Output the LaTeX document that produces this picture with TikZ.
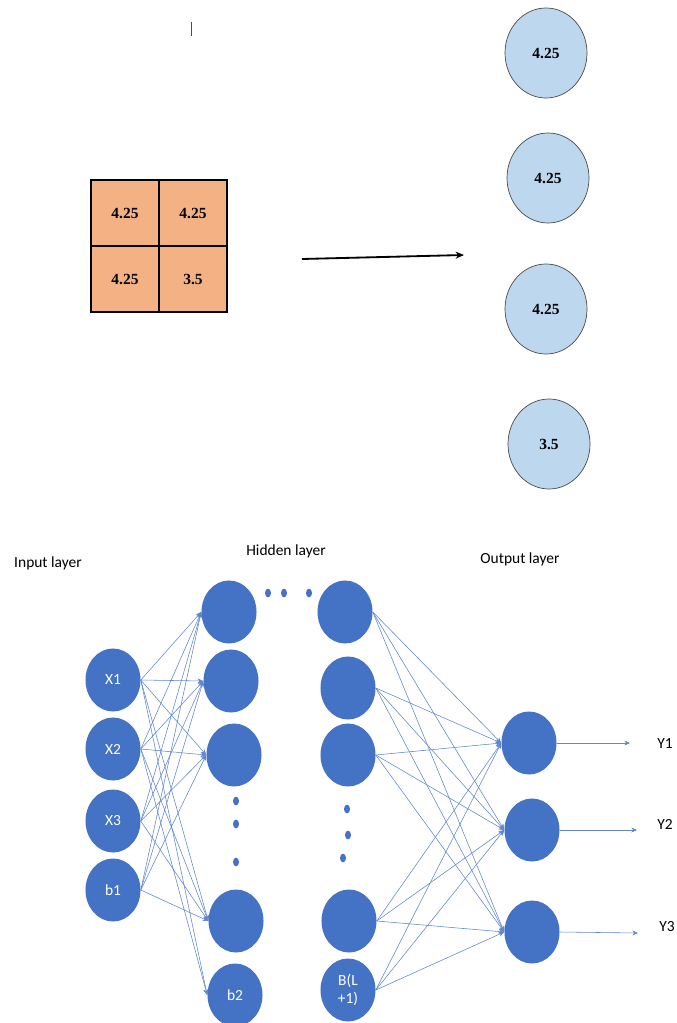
\documentclass[tikz,border=0pt]{standalone}
\usepackage{fontspec}
\setmainfont{Liberation Serif}
\newfontfamily\calibri{Carlito}
\usetikzlibrary{shapes.geometric,arrows.meta}
\definecolor{cellorange}{HTML}{F4B183}
\definecolor{poolblue}{HTML}{BDD7EE}
\definecolor{netblue}{HTML}{4472C4}

\begin{document}
\begin{tikzpicture}[x=0.025cm, y=-0.025cm,
  cell/.style={draw, line width=1.1pt, fill=cellorange, minimum width=1.7cm, minimum height=1.65cm, font=\bfseries\fontsize{11}{13}\selectfont},
  pool/.style={ellipse, draw=black!70, line width=0.5pt, fill=poolblue, minimum width=2.05cm, minimum height=2.25cm, inner sep=0pt, font=\bfseries\fontsize{11}{13}\selectfont},
  neuron/.style={ellipse, fill=netblue, minimum width=1.375cm, minimum height=1.575cm, inner sep=0pt, text=white, font=\calibri\fontsize{11}{12}\selectfont},
  dot/.style={ellipse, fill=netblue, minimum width=0.15cm, minimum height=0.22cm, inner sep=0pt},
  link/.style={netblue!85, line width=0.4pt, -{Stealth[length=4pt, width=3.5pt]}},
  title/.style={font=\calibri\fontsize{11}{13}\selectfont}]
\useasboundingbox (0, 0) rectangle (676, 1023);

\draw[black!70, line width=0.5pt] (191, 22) -- (191, 36);

\node[cell] (c11) at (125, 213) {4.25};
\node[cell] (c12) at (193, 213) {4.25};
\node[cell] (c21) at (125, 279) {4.25};
\node[cell] (c22) at (193, 279) {3.5};

\coordinate (flatfrom) at (302, 259);
\coordinate (flatto) at (464, 255);
\draw[line width=1.3pt, -{Stealth[length=6pt, width=5pt]}] (flatfrom) -- (flatto);

\node[pool] (p1) at (546, 53) {4.25};
\node[pool] (p2) at (548, 178) {4.25};
\node[pool] (p3) at (546, 309) {4.25};
\node[pool] (p4) at (549, 444) {3.5};

\node[title] (intitle) at (48, 563) {Input layer};
\node[title] (hidtitle) at (286, 551) {Hidden layer};
\node[title] (outtitle) at (520, 559) {Output layer};

\node[neuron] (x1) at (113, 680) {X1};
\node[neuron] (x2) at (113, 749) {X2};
\node[neuron] (x3) at (113, 821) {X3};
\node[neuron] (b1) at (113, 890) {b1};

\node[neuron] (h1) at (229, 612) {};
\node[neuron] (h2) at (231, 681) {};
\node[neuron] (h3) at (234, 755) {};
\node[neuron] (h4) at (236, 921) {};
\node[neuron] (b2) at (235, 995) {b2};

\node[dot] (hd1) at (236, 801) {};
\node[dot] (hd2) at (236, 824) {};
\node[dot] (hd3) at (236, 862) {};

\node[dot] (td1) at (268, 593) {};
\node[dot] (td2) at (284, 593) {};
\node[dot] (td3) at (309, 593) {};

\node[neuron] (g1) at (345, 612) {};
\node[neuron] (g2) at (348, 688) {};
\node[neuron] (g3) at (348, 755) {};
\node[neuron] (g4) at (349, 921) {};
\node[neuron, align=center, font=\calibri\fontsize{11}{13}\selectfont] (bl) at (348, 990) {B(L\\+1)};

\node[dot] (gd1) at (347, 809) {};
\node[dot] (gd2) at (348, 835) {};
\node[dot] (gd3) at (343, 858) {};

\node[neuron] (o1) at (529, 743) {};
\node[neuron] (o2) at (532, 830) {};
\node[neuron] (o3) at (532, 932) {};

\draw[link] (x1.east) -- (h1.west);
\draw[link] (x1.east) -- (h2.west);
\draw[link] (x1.east) -- (h3.west);
\draw[link] (x1.east) -- (h4.west);
\draw[link] (x1.east) -- (b2.west);
\draw[link] (x2.east) -- (h1.west);
\draw[link] (x2.east) -- (h2.west);
\draw[link] (x2.east) -- (h3.west);
\draw[link] (x2.east) -- (h4.west);
\draw[link] (x2.east) -- (b2.west);
\draw[link] (x3.east) -- (h1.west);
\draw[link] (x3.east) -- (h2.west);
\draw[link] (x3.east) -- (h3.west);
\draw[link] (x3.east) -- (h4.west);
\draw[link] (b1.east) -- (h1.west);
\draw[link] (b1.east) -- (h2.west);
\draw[link] (b1.east) -- (h3.west);
\draw[link] (b1.east) -- (h4.west);

\draw[link] (g1.east) -- (o1.west);
\draw[link] (g1.east) -- (o2.west);
\draw[link] (g1.east) -- (o3.west);
\draw[link] (g2.east) -- (o1.west);
\draw[link] (g2.east) -- (o2.west);
\draw[link] (g2.east) -- (o3.west);
\draw[link] (g3.east) -- (o1.west);
\draw[link] (g3.east) -- (o2.west);
\draw[link] (g3.east) -- (o3.west);
\draw[link] (g4.east) -- (o1.west);
\draw[link] (g4.east) -- (o2.west);
\draw[link] (g4.east) -- (o3.west);
\draw[link] (bl.east) -- (o1.west);
\draw[link] (bl.east) -- (o2.west);
\draw[link] (bl.east) -- (o3.west);

\coordinate (y1end) at (630, 743);
\coordinate (y2end) at (637, 830);
\coordinate (y3end) at (638, 933);
\draw[link] (o1.east) -- (y1end);
\draw[link] (o2.east) -- (y2end);
\draw[link] (o3.east) -- (y3end);
\node[title] (y1) at (665, 744) {Y1};
\node[title] (y2) at (665, 824) {Y2};
\node[title] (y3) at (667, 927) {Y3};
\end{tikzpicture}
\end{document}
